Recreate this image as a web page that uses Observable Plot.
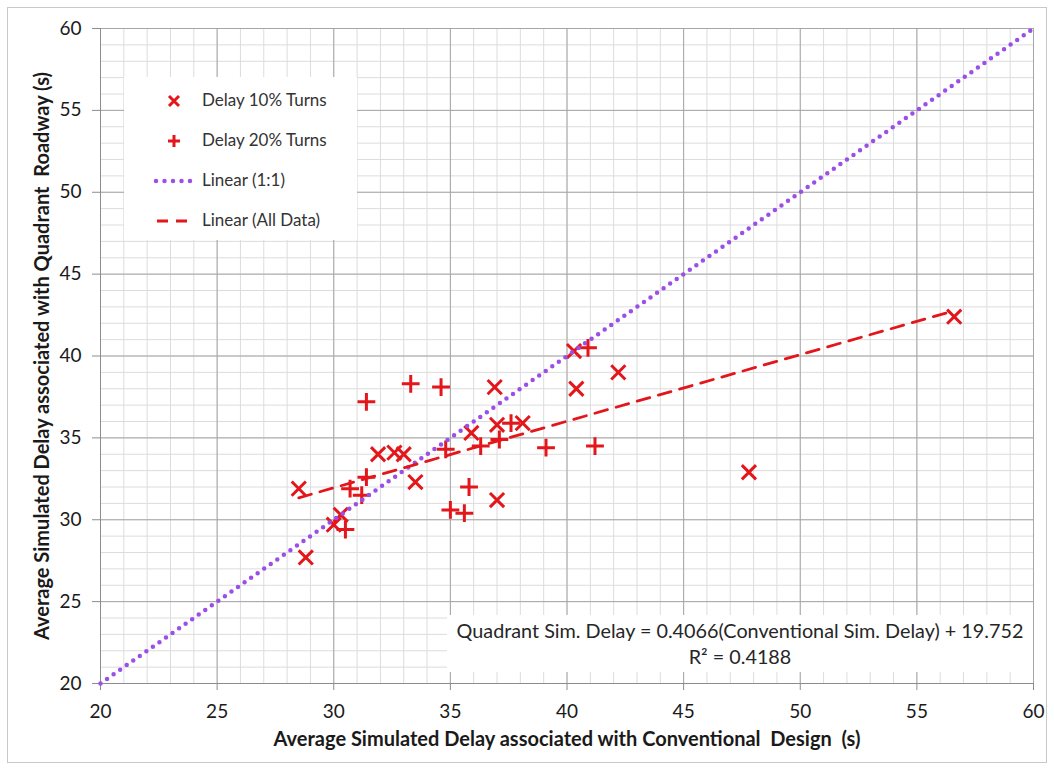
<!DOCTYPE html>
<html><head><meta charset="utf-8">
<script src="https://cdn.jsdelivr.net/npm/d3@7"></script>
<script src="https://cdn.jsdelivr.net/npm/@observablehq/plot@0.6"></script>
<style>
body{margin:0;background:#fff;font-family:Lato,"Open Sans",sans-serif;}
#wrap{position:relative;width:1054px;height:769px;overflow:hidden;}
#border{position:absolute;left:7px;top:7px;width:1040px;height:756px;border:1px solid #c8c8c8;box-sizing:border-box;pointer-events:none;}
#legend{position:absolute;left:124px;top:77px;width:233px;height:163px;background:#fff;}
.li{position:absolute;left:0;height:20px;width:233px;}
.li svg{position:absolute;left:28px;top:0;}
.li span{position:absolute;left:78px;top:-1px;font-size:17px;line-height:20px;color:#333;white-space:nowrap;}
#note{position:absolute;left:447px;top:615px;width:586px;height:57px;background:#fff;text-align:center;color:#262626;font-size:19.8px;line-height:26px;padding-top:2px;box-sizing:border-box;}
</style></head>
<body><div id="wrap"><div id="chart"></div><div id="legend"></div><div id="note"></div><div id="border"></div></div>
<script>
// Delay 10% Turns (x marker)
const conv10 = [36.9, 37.0, 38.1, 35.9, 31.9, 32.6, 33.0, 33.5, 28.5, 37.0, 30.3, 30.0, 28.8, 40.3, 42.2, 40.4, 56.6, 47.8];
const quad10 = [38.1, 35.8, 35.9, 35.3, 34.0, 34.1, 34.0, 32.3, 31.9, 31.2, 30.3, 29.7, 27.7, 40.3, 39.0, 38.0, 42.4, 32.9];
// Delay 20% Turns (+ marker)
const conv20 = [33.3, 34.6, 31.4, 37.6, 34.8, 36.3, 37.1, 39.1, 31.4, 30.7, 31.2, 35.8, 35.0, 35.6, 30.5, 40.9, 41.2];
const quad20 = [38.3, 38.1, 37.2, 35.9, 34.3, 34.5, 34.9, 34.4, 32.6, 31.9, 31.5, 32.0, 30.6, 30.4, 29.4, 40.5, 34.5];
// Trendline (All Data) as reported on the chart
const fitSlope = 0.4066, fitIntercept = 19.752, fitR2 = 0.4188;
const identityEnds = [20, 60];
const majorTicks = [20, 25, 30, 35, 40, 45, 50, 55, 60];
const minorTicks = [20,21,22,23,24,25,26,27,28,29,30,31,32,33,34,35,36,37,38,39,40,41,42,43,44,45,46,47,48,49,50,51,52,53,54,55,56,57,58,59,60];
const legendLabels = ["Delay 10% Turns", "Delay 20% Turns", "Linear (1:1)", "Linear (All Data)"];
const xTitle = "Average Simulated Delay associated with Conventional  Design  (s)";
const yTitle = "Average Simulated Delay associated with Quadrant  Roadway (s)";

const RED = "#e3161b", PURPLE = "#9b4fe8";
const d10 = conv10.map((x, i) => ({x, y: quad10[i]}));
const d20 = conv20.map((x, i) => ({x, y: quad20[i]}));
const allX = conv10.concat(conv20);
const fitLine = d3.extent(allX).map(x => ({x, y: fitSlope * x + fitIntercept}));
const idLine = identityEnds.map(v => ({x: v, y: v}));

const chart = Plot.plot({
  width: 1054, height: 769,
  marginLeft: 100, marginRight: 21, marginTop: 28, marginBottom: 86,
  style: {fontFamily: "Lato, 'Open Sans', sans-serif", color: "#1a1a1a", background: "transparent"},
  x: {domain: [20, 60]},
  y: {domain: [20, 60]},
  marks: [
    Plot.gridX(minorTicks, {stroke: "#dcdcdc", strokeOpacity: 1}),
    Plot.gridY(minorTicks, {stroke: "#dcdcdc", strokeOpacity: 1}),
    Plot.gridX(majorTicks, {stroke: "#a6a6a6", strokeOpacity: 1}),
    Plot.gridY(majorTicks, {stroke: "#a6a6a6", strokeOpacity: 1}),
    Plot.axisX(majorTicks, {tickSize: 7, tickPadding: 14, fontSize: 19, label: null, stroke: "#8c8c8c", fill: "#1a1a1a"}),
    Plot.axisY(majorTicks, {tickSize: 8, tickPadding: 11, fontSize: 19, label: null, stroke: "#8c8c8c", fill: "#1a1a1a"}),
    Plot.ruleX([20], {stroke: "#8c8c8c"}),
    Plot.ruleY([20], {stroke: "#8c8c8c"}),
    Plot.dot(d10, {x: "x", y: "y", symbol: "times", r: 6.5, stroke: RED, strokeWidth: 3}),
    Plot.dot(d20, {x: "x", y: "y", symbol: "plus", r: 5.8, stroke: RED, strokeWidth: 3}),
    Plot.line(idLine, {x: "x", y: "y", stroke: PURPLE, strokeWidth: 4.5, strokeDasharray: "0 8", strokeLinecap: "round"}),
    Plot.line(fitLine, {x: "x", y: "y", stroke: RED, strokeWidth: 2.8, strokeDasharray: "13 9"}),
    Plot.text([xTitle], {frameAnchor: "bottom", dy: 62, fontSize: 20, fontWeight: "bold", fill: "#1a1a1a"}),
    Plot.text([yTitle], {frameAnchor: "left", dx: -58, rotate: -90, textAnchor: "middle", fontSize: 20, fontWeight: "bold", fill: "#1a1a1a"})
  ]
});
document.getElementById("chart").appendChild(chart);

// Legend
const legend = document.getElementById("legend");
const icons = [
  `<svg width="44" height="20"><path d="M17,5L27,15M27,5L17,15" stroke="${RED}" stroke-width="3"/></svg>`,
  `<svg width="44" height="20"><path d="M22,4V16M16,10H28" stroke="${RED}" stroke-width="3"/></svg>`,
  `<svg width="44" height="20"><line x1="4" y1="10" x2="44" y2="10" stroke="${PURPLE}" stroke-width="4.5" stroke-dasharray="0 8.5" stroke-linecap="round"/></svg>`,
  `<svg width="44" height="20"><line x1="5" y1="10" x2="36" y2="10" stroke="${RED}" stroke-width="3" stroke-dasharray="11 8"/></svg>`
];
legendLabels.forEach((t, i) => {
  const d = document.createElement("div");
  d.className = "li";
  d.style.top = (14 + i * 40) + "px";
  d.innerHTML = icons[i] + `<span>${t}</span>`;
  legend.appendChild(d);
});

document.getElementById("note").innerHTML =
  `Quadrant Sim. Delay = ${fitSlope}(Conventional Sim. Delay) + ${fitIntercept}<br>R² = ${fitR2}`;
</script></body></html>
